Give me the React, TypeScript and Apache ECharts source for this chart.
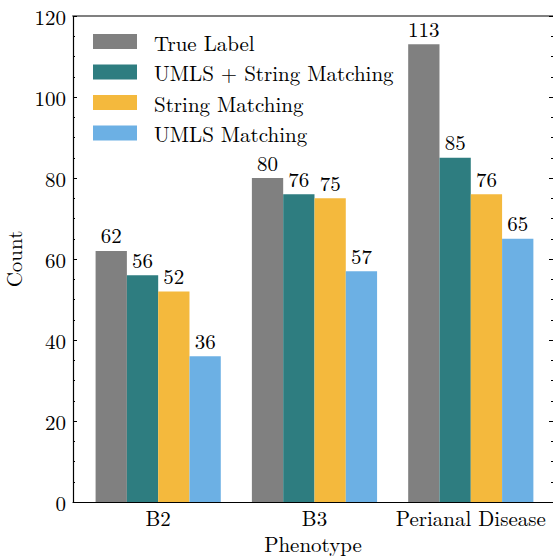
import React, { useEffect, useRef } from "react";
import * as echarts from "echarts";

const categories = ["B2", "B3", "Perianal Disease"];
const seriesNames = ["True Label", "UMLS + String Matching", "String Matching", "UMLS Matching"];
const trueLabel = [62, 80, 113];
const umlsString = [56, 76, 85];
const stringMatching = [52, 75, 76];
const umlsMatching = [36, 57, 65];
const colors = ["#808080", "#2e7d80", "#f4b93d", "#6cb0e4"];
const yTicks = [0, 20, 40, 60, 80, 100, 120];

const FONT = "Latin Modern Roman";
const FS = 21;

export default function App() {
  const ref = useRef<HTMLDivElement>(null);
  useEffect(() => {
    if (!ref.current) return;
    const chart = echarts.init(ref.current, undefined, { renderer: "svg" });
    const all = [trueLabel, umlsString, stringMatching, umlsMatching];
    const catIdx = categories.map((_, i) => i);
    chart.setOption({
      animation: false,
      textStyle: { fontFamily: FONT },
      grid: {
        left: 73,
        top: 16,
        width: 480,
        height: 486,
        containLabel: false,
        outerBoundsMode: "none",
      },
      legend: {
        orient: "vertical",
        left: 93,
        top: 31,
        padding: 0,
        itemWidth: 44,
        itemHeight: 15,
        itemGap: 9.5,
        icon: "rect",
        data: seriesNames,
        textStyle: { fontFamily: FONT, fontSize: FS, color: "#000", padding: [0, 0, 0, 12] },
      },
      xAxis: [
        {
          type: "value",
          min: -0.545,
          max: 2.526,
          name: "Phenotype",
          nameLocation: "middle",
          nameGap: 26,
          nameTextStyle: { fontFamily: FONT, fontSize: FS, color: "#000", lineHeight: 18 },
          axisLine: { show: true, onZero: false, lineStyle: { color: "#000", width: 1.2 } },
          axisTick: { show: false },
          splitLine: { show: false },
          axisLabel: {
            customValues: catIdx,
            formatter: (v: number) => categories[Math.round(v)] ?? "",
            fontFamily: FONT,
            fontSize: FS,
            lineHeight: 18,
            color: "#000",
            margin: 6,
          },
        },
        {
          type: "value",
          position: "top",
          min: -0.545,
          max: 2.526,
          axisLine: { show: true, onZero: false, lineStyle: { color: "#808080", width: 2 } },
          axisTick: { show: false },
          axisLabel: { show: false },
          splitLine: { show: false },
        },
      ],
      yAxis: [
        {
          type: "value",
          min: 0,
          max: 120,
          interval: 20,
          name: "Count",
          nameLocation: "middle",
          nameGap: 38,
          nameTextStyle: { fontFamily: FONT, fontSize: FS, color: "#000" },
          axisLine: { show: true, onZero: false, lineStyle: { color: "#000", width: 1.2 } },
          axisTick: { show: true, inside: true, length: 4, lineStyle: { color: "#000" } },
          minorTick: { show: true, splitNumber: 4, length: 2, lineStyle: { color: "#000" } },
          splitLine: { show: false },
          axisLabel: {
            customValues: yTicks,
            fontFamily: FONT,
            fontSize: FS,
            color: "#000",
            margin: 7,
          },
        },
        {
          type: "value",
          position: "right",
          min: 0,
          max: 120,
          interval: 20,
          axisLine: { show: false, onZero: false },
          axisTick: { show: true, inside: true, length: 4, lineStyle: { color: "#000" } },
          minorTick: { show: true, splitNumber: 4, length: 2, lineStyle: { color: "#000" } },
          splitLine: { show: false },
          axisLabel: { show: false },
        },
      ],
      series: all.map((vals, s) => ({
        type: "bar",
        name: seriesNames[s],
        xAxisIndex: 0,
        yAxisIndex: 0,
        data: vals.map((v, i) => [i, v]),
        barWidth: 31.3,
        barGap: "0%",
        itemStyle: { color: colors[s] },
        label: {
          show: true,
          position: "top",
          distance: 6,
          fontFamily: FONT,
          fontSize: FS,
          color: "#000",
        },
      })),
    });
    return () => chart.dispose();
  }, []);
  return (
    <div
      ref={ref}
      style={{ position: "absolute", left: 0, top: 0, width: 553, height: 556 }}
    />
  );
}
